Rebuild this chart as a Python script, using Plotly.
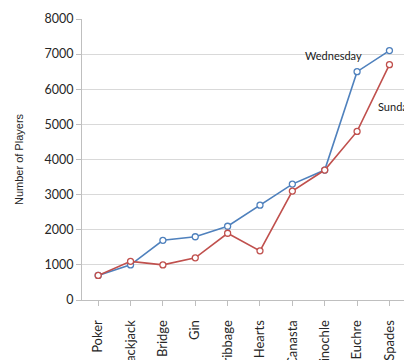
import plotly.graph_objects as go

games = ["Poker", "Blackjack", "Bridge", "Gin", "Cribbage", "Hearts",
         "Canasta", "Pinochle", "Euchre", "Spades"]
wednesday = [700, 1000, 1700, 1800, 2100, 2700, 3300, 3700, 6500, 7100]
sunday = [700, 1100, 1000, 1200, 1900, 1400, 3100, 3700, 4800, 6700]
y_ticks = [0, 1000, 2000, 3000, 4000, 5000, 6000, 7000, 8000]

BLUE = "#4F81BD"
RED = "#C0504D"
FONT = "Lato, 'Open Sans', sans-serif"
TITLE_FONT = "'Liberation Sans', Arial, sans-serif"

fig = go.Figure()
idx = list(range(len(games)))
for name, vals, col in [("Wednesday", wednesday, BLUE), ("Sunday", sunday, RED)]:
    fig.add_trace(go.Scatter(
        x=idx, y=vals, name=name, mode="lines+markers",
        line=dict(color=col, width=1.6),
        marker=dict(symbol="circle", size=6, color="white",
                    line=dict(color=col, width=1.3)),
        cliponaxis=False,
    ))

fig.add_annotation(x=7.26, y=6950, xref="x", yref="y", text="Wednesday",
                   showarrow=False, xanchor="center", yanchor="middle",
                   font=dict(size=11, color="#1a1a1a", family=FONT))
fig.add_annotation(x=8.58, y=5500, xref="x", yref="y", text="Sunday",
                   showarrow=False, xanchor="left", yanchor="middle",
                   font=dict(size=11, color="#1a1a1a", family=FONT))

fig.update_layout(
    template="none",
    width=404, height=360,
    margin=dict(l=82, r=0, t=19, b=60),
    paper_bgcolor="white", plot_bgcolor="white",
    showlegend=False,
    font=dict(family=FONT, size=12, color="#262626"),
    xaxis=dict(
        range=[-0.5, 9.45], tickmode="array", tickvals=idx, ticktext=games,
        tickangle=-90, tickson="boundaries", ticks="outside", ticklen=5,
        tickcolor="#bfbfbf", showline=True, linecolor="#bfbfbf", linewidth=1,
        showgrid=False, zeroline=False, automargin=False,
        ticklabelstandoff=9,
        tickfont=dict(size=13, family=FONT, color="#262626"),
    ),
    yaxis=dict(
        range=[0, 8000], tickmode="array", tickvals=y_ticks,
        ticks="outside", ticklen=5, tickcolor="#bfbfbf",
        showline=True, linecolor="#bfbfbf", linewidth=1,
        showgrid=True, gridcolor="#d9d9d9", gridwidth=1,
        zeroline=False, automargin=False,
        tickfont=dict(size=12.5, family=FONT, color="#262626"),
        title=dict(text="Number of Players", standoff=18,
                   font=dict(size=11, family=TITLE_FONT, color="#262626")),
    ),
)

fig.write_html("out.html")
